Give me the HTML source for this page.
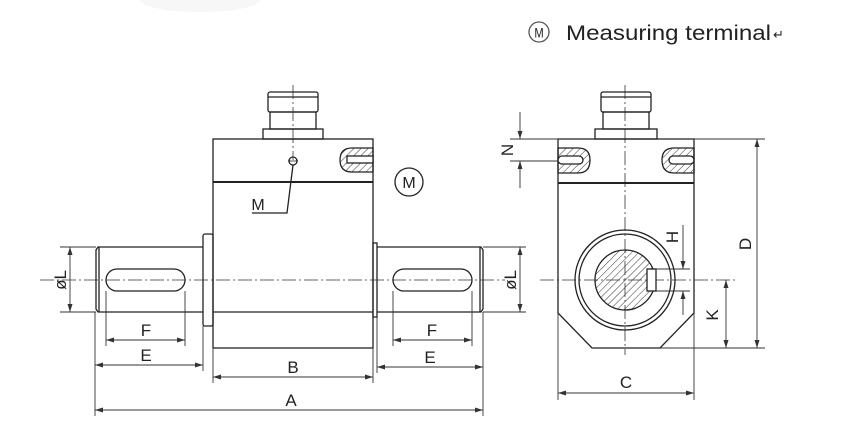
<!DOCTYPE html>
<html><head><meta charset="utf-8"><style>
html,body{margin:0;padding:0;background:#fff;width:857px;height:446px;overflow:hidden}
svg{display:block}
text{font-family:"Liberation Sans",sans-serif;fill:#222}
</style></head><body>
<svg width="857" height="446" viewBox="0 0 857 446" xmlns="http://www.w3.org/2000/svg">
<defs>
<pattern id="h" width="5" height="5" patternUnits="userSpaceOnUse" patternTransform="rotate(45)">
<line x1="0" y1="0" x2="0" y2="5" stroke="#333" stroke-width="1"/></pattern>
<marker id="a" markerWidth="8" markerHeight="6" refX="8" refY="3" orient="auto-start-reverse" markerUnits="userSpaceOnUse"><path d="M0,0.5 L8,3 L0,5.5 Z" fill="#333"/></marker>
</defs>
<ellipse cx="200" cy="0" rx="60" ry="12" fill="#f7f7f7"/>
<!-- header -->
<circle cx="539" cy="32" r="10" fill="none" stroke="#555" stroke-width="1.3"/>
<text x="539" y="37.5" font-size="14" text-anchor="middle" fill="#333" transform="translate(539,0) scale(0.8,1) translate(-539,0)">M</text>
<text x="566" y="40" font-size="21" textLength="205" lengthAdjust="spacingAndGlyphs">Measuring  terminal</text>
<text x="773" y="39" font-size="13" fill="#999">↵</text>

<g stroke="#222" stroke-width="1.3" fill="none">
<rect x="263" y="129" width="60" height="10"/>
<rect x="270" y="112" width="46" height="17"/>
<rect x="268" y="92" width="50" height="20" rx="2"/>
<line x1="268" y1="97" x2="318" y2="97"/>
<rect x="213" y="139" width="160" height="209"/>
<line x1="213" y1="182" x2="373" y2="182" stroke-width="2"/>
<line x1="213" y1="312" x2="373" y2="312"/>
<rect x="203" y="234" width="10" height="92" rx="2"/>
<rect x="373" y="243" width="4" height="74"/>
<path d="M203,247 H98 L96,250 V309 L98,312 H203"/>
<line x1="99" y1="247" x2="99" y2="312"/>
<path d="M377,247 H481 L483,250 V309 L481,312 H377"/>
<line x1="480" y1="247" x2="480" y2="312"/>
<rect x="106" y="269" width="79" height="22" rx="11"/>
<rect x="393" y="269" width="79" height="22" rx="11"/>
<path d="M373,148 H352 Q340,148 340,160 Q340,172 352,172 H373 Z" fill="url(#h)"/>
<rect x="347" y="156" width="26" height="7" fill="#fff"/>
<circle cx="293" cy="161" r="4"/>
<line x1="288" y1="161" x2="298" y2="161" stroke-width="0.8"/>
<circle cx="409" cy="182" r="14"/>
<polyline points="252,213 287,213 293,165"/>
</g>
<g stroke="#333" stroke-width="0.8" fill="none" stroke-dasharray="14,3,2,3">
<line x1="40" y1="280" x2="505" y2="280"/>
<line x1="293" y1="85" x2="293" y2="160"/>
<line x1="540" y1="280" x2="735" y2="280"/>
<line x1="625" y1="85" x2="625" y2="355"/>
</g>
<g font-size="16" text-anchor="middle">
<text x="258" y="210">M</text>
<text x="409" y="188">M</text>
</g>

<g stroke="#333" stroke-width="0.9" fill="none">
<line x1="95" y1="312" x2="95" y2="416"/><line x1="483" y1="312" x2="483" y2="416"/>
<line x1="106" y1="291" x2="106" y2="346"/><line x1="185" y1="291" x2="185" y2="346"/>
<line x1="203" y1="326" x2="203" y2="371"/>
<line x1="213" y1="348" x2="213" y2="383"/><line x1="373" y1="348" x2="373" y2="383"/>
<line x1="393" y1="291" x2="393" y2="346"/><line x1="472" y1="291" x2="472" y2="346"/>
<line x1="377" y1="317" x2="377" y2="373"/>
<line x1="106" y1="340" x2="185" y2="340" marker-start="url(#a)" marker-end="url(#a)"/>
<line x1="95" y1="365" x2="203" y2="365" marker-start="url(#a)" marker-end="url(#a)"/>
<line x1="213" y1="377" x2="373" y2="377" marker-start="url(#a)" marker-end="url(#a)"/>
<line x1="95" y1="410" x2="483" y2="410" marker-start="url(#a)" marker-end="url(#a)"/>
<line x1="393" y1="340" x2="472" y2="340" marker-start="url(#a)" marker-end="url(#a)"/>
<line x1="377" y1="367" x2="483" y2="367" marker-start="url(#a)" marker-end="url(#a)"/>
<line x1="60" y1="247" x2="96" y2="247"/><line x1="60" y1="312" x2="96" y2="312"/>
<line x1="70" y1="247" x2="70" y2="312" marker-start="url(#a)" marker-end="url(#a)"/>
<line x1="483" y1="247" x2="526" y2="247"/><line x1="483" y1="312" x2="526" y2="312"/>
<line x1="520" y1="247" x2="520" y2="312" marker-start="url(#a)" marker-end="url(#a)"/>
</g>
<g font-size="17" text-anchor="middle">
<text x="146" y="336">F</text><text x="146" y="361">E</text>
<text x="293" y="373">B</text><text x="291" y="406">A</text>
<text x="432" y="336">F</text><text x="430" y="363">E</text>
<text transform="translate(66,280) rotate(-90)">øL</text>
<text transform="translate(516,280) rotate(-90)">øL</text>
</g>

<g stroke="#222" stroke-width="1.3" fill="none">
<rect x="595" y="129" width="62" height="10"/>
<rect x="603" y="112" width="46" height="17"/>
<rect x="601" y="92" width="50" height="20" rx="2"/>
<line x1="601" y1="97" x2="651" y2="97"/>
<path d="M558,139 H694 V313 L660,348 H592 L558,313 Z"/>
<line x1="558" y1="183" x2="694" y2="183" stroke-width="2"/>
<path d="M558,148 H578 Q590,148 590,160 Q590,173 578,173 H558 Z" fill="url(#h)"/>
<rect x="558" y="156" width="25" height="8" rx="4" fill="#fff"/>
<path d="M694,148 H674 Q662,148 662,160 Q662,173 674,173 H694 Z" fill="url(#h)"/>
<rect x="669" y="156" width="25" height="8" rx="4" fill="#fff"/>
<circle cx="625" cy="280" r="50"/>
<circle cx="625" cy="280" r="46"/>
<circle cx="625" cy="280" r="30" fill="url(#h)"/>
<rect x="647" y="269" width="9" height="22" fill="#fff"/>
</g>
<g stroke="#333" stroke-width="0.9" fill="none">
<line x1="510" y1="139" x2="558" y2="139"/><line x1="510" y1="161" x2="558" y2="161"/>
<line x1="520" y1="112" x2="520" y2="139" marker-end="url(#a)"/>
<line x1="520" y1="188" x2="520" y2="161" marker-end="url(#a)"/>
<line x1="694" y1="139" x2="765" y2="139"/><line x1="660" y1="348" x2="765" y2="348"/>
<line x1="757" y1="139" x2="757" y2="348" marker-start="url(#a)" marker-end="url(#a)"/>
<line x1="726" y1="280" x2="726" y2="348" marker-start="url(#a)" marker-end="url(#a)"/>
<line x1="656" y1="269" x2="690" y2="269"/><line x1="656" y1="291" x2="690" y2="291"/>
<line x1="683" y1="225" x2="683" y2="269" marker-end="url(#a)"/>
<line x1="683" y1="315" x2="683" y2="291" marker-end="url(#a)"/>
<line x1="558" y1="313" x2="558" y2="400"/><line x1="694" y1="313" x2="694" y2="400"/>
<line x1="558" y1="393" x2="694" y2="393" marker-start="url(#a)" marker-end="url(#a)"/>
</g>
<g font-size="17" text-anchor="middle">
<text transform="translate(513,150) rotate(-90)">N</text>
<text transform="translate(678,237) rotate(-90)">H</text>
<text transform="translate(751,244) rotate(-90)">D</text>
<text transform="translate(718,315) rotate(-90)">K</text>
<text x="626" y="388">C</text>
</g>
</svg>
</body></html>
